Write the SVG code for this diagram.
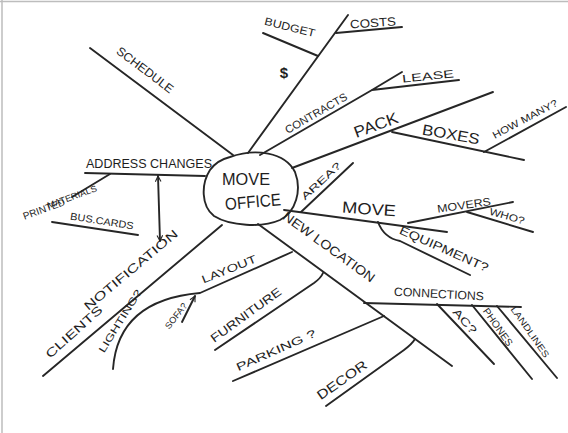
<svg xmlns="http://www.w3.org/2000/svg" width="568" height="433" viewBox="0 0 568 433">
<defs>
<style>
.ln{fill:none;stroke:#262626;stroke-width:1.9;stroke-linecap:round;stroke-linejoin:round}
.t{font-family:"Liberation Sans",Arial,sans-serif;fill:#1e1e1e;text-anchor:middle;dominant-baseline:central}
.s9{font-size:9px}.s10{font-size:10px}.s11{font-size:11px}.s12{font-size:12px}.s13{font-size:13px}.s15{font-size:15px}.s16{font-size:16px}.s17{font-size:17px}
</style>
<marker id="ah" viewBox="0 0 10 10" refX="9" refY="5" markerWidth="7" markerHeight="7" orient="auto-start-reverse" markerUnits="userSpaceOnUse">
<path d="M1,1 L9,5 L1,9" fill="none" stroke="#262626" stroke-width="1.6"/>
</marker>
</defs>
<rect width="568" height="433" fill="#fff"/>
<path d="M0,1.5 H568 M2,0 V433" stroke="#bdbdbd" stroke-width="1.5" fill="none"/>

<g id="connectors">
<path class="ln" d="M90,48 L233,155"/>
<path class="ln" d="M248,153 L348,15"/>
<path class="ln" d="M263,33 L318,56"/>
<path class="ln" d="M336,33 L402,27"/>
<path class="ln" d="M260,155 L372,90 L402,72 M372,90 L459,80"/>
<path class="ln" d="M292,168 L493,92"/>
<path class="ln" d="M392,132 L524,160"/>
<path class="ln" d="M484,152 L566,107"/>
<path class="ln" d="M301,212 L353,163"/>
<path class="ln" d="M284,210 L447,232"/>
<path class="ln" d="M408,223 L513,202"/>
<path class="ln" d="M467,212 L533,232"/>
<path class="ln" d="M378,222 Q384,238 400,241 L470,275"/>
<path class="ln" d="M258,224 L452,366"/>
<path class="ln" d="M364,303 L521,307"/>
<path class="ln" d="M437,304 L494,364"/>
<path class="ln" d="M472,305 L532,379"/>
<path class="ln" d="M497,306 L557,378"/>
<path class="ln" d="M215,350 L314,283 Q321,278 323,273"/>
<path class="ln" d="M233,381 L384,316"/>
<path class="ln" d="M326,406 L404,350 Q412,344 415,339"/>
<path class="ln" d="M113,369 Q118,300 200,293 L292,252"/>
<path class="ln" d="M222,225 L43,376"/>
<path class="ln" d="M85,173 L205,176"/>
<path class="ln" d="M110,174 L72,197"/>
<path class="ln" d="M52,222 L138,235"/>
<path class="ln" d="M158,176 L160,241" marker-start="url(#ah)" marker-end="url(#ah)"/>
<path class="ln" d="M182,322 L195,296" marker-end="url(#ah)"/>
</g>

<g id="move-office">
<path class="ln" d="M230,157 C255,148 285,152 295,172 C302,190 296,212 280,220 C262,228 230,226 214,216 C201,206 201,184 210,170 C215,163 222,159 230,157 Z"/>
<text class="t s17" x="246" y="179" textLength="48" lengthAdjust="spacingAndGlyphs">MOVE</text>
<text class="t s17" transform="translate(253,202) rotate(-5)" textLength="56" lengthAdjust="spacingAndGlyphs">OFFICE</text>
</g>
<g id="schedule"><text class="t s12" transform="translate(145,70) rotate(37)" textLength="68" lengthAdjust="spacingAndGlyphs">SCHEDULE</text></g>
<g id="budget"><text class="t s11" transform="translate(290,27) rotate(14)" textLength="52" lengthAdjust="spacingAndGlyphs">BUDGET</text>
<text class="t s15" x="284" y="72" font-weight="bold">$</text></g>
<g id="costs"><text class="t s12" transform="translate(373,23) rotate(-4)" textLength="46" lengthAdjust="spacingAndGlyphs">COSTS</text></g>
<g id="contracts"><text class="t s11" transform="translate(316,113) rotate(-30)" textLength="70" lengthAdjust="spacingAndGlyphs">CONTRACTS</text></g>
<g id="lease"><text class="t s11" transform="translate(428,76) rotate(-6)" textLength="52" lengthAdjust="spacingAndGlyphs">LEASE</text></g>
<g id="pack"><text class="t s16" transform="translate(376,125) rotate(-20)" textLength="46" lengthAdjust="spacingAndGlyphs">PACK</text></g>
<g id="boxes"><text class="t s15" transform="translate(451,134) rotate(10)" textLength="58" lengthAdjust="spacingAndGlyphs">BOXES</text></g>
<g id="how-many"><text class="t s10" transform="translate(525,119) rotate(-28)" textLength="72" lengthAdjust="spacingAndGlyphs">HOW MANY?</text></g>
<g id="area"><text class="t s10" transform="translate(321,181) rotate(-43)" textLength="50" lengthAdjust="spacingAndGlyphs">AREA?</text></g>
<g id="move"><text class="t s16" transform="translate(369,209) rotate(4)" textLength="54" lengthAdjust="spacingAndGlyphs">MOVE</text></g>
<g id="movers"><text class="t s11" transform="translate(464,205) rotate(-8)" textLength="54" lengthAdjust="spacingAndGlyphs">MOVERS</text></g>
<g id="who"><text class="t s10" transform="translate(507,216) rotate(16)" textLength="36" lengthAdjust="spacingAndGlyphs">WHO?</text></g>
<g id="equipment"><text class="t s12" transform="translate(444,249) rotate(24)" textLength="96" lengthAdjust="spacingAndGlyphs">EQUIPMENT?</text></g>
<g id="new-location"><text class="t s13" transform="translate(329,247) rotate(36)" textLength="110" lengthAdjust="spacingAndGlyphs">NEW LOCATION</text></g>
<g id="connections"><text class="t s12" transform="translate(439,294) rotate(3)" textLength="90" lengthAdjust="spacingAndGlyphs">CONNECTIONS</text></g>
<g id="ac"><text class="t s11" transform="translate(465,321) rotate(48)" textLength="30" lengthAdjust="spacingAndGlyphs">AC?</text></g>
<g id="phones"><text class="t s10" transform="translate(498,327) rotate(55)" textLength="44" lengthAdjust="spacingAndGlyphs">PHONES</text></g>
<g id="landlines"><text class="t s9" transform="translate(530,332) rotate(55)" textLength="60" lengthAdjust="spacingAndGlyphs">LANDLINES</text></g>
<g id="furniture"><text class="t s12" transform="translate(246,315) rotate(-36)" textLength="84" lengthAdjust="spacingAndGlyphs">FURNITURE</text></g>
<g id="parking"><text class="t s11" transform="translate(276,350) rotate(-24)" textLength="86" lengthAdjust="spacingAndGlyphs">PARKING ?</text></g>
<g id="decor"><text class="t s13" transform="translate(342,380) rotate(-35)" textLength="58" lengthAdjust="spacingAndGlyphs">DECOR</text></g>
<g id="layout"><text class="t s11" transform="translate(229,269) rotate(-22)" textLength="58" lengthAdjust="spacingAndGlyphs">LAYOUT</text></g>
<g id="lighting"><text class="t s10" transform="translate(120,321) rotate(-58)" textLength="72" lengthAdjust="spacingAndGlyphs">LIGHTING?</text></g>
<g id="sofa"><text class="t s9" transform="translate(176,316) rotate(-52)" textLength="30" lengthAdjust="spacingAndGlyphs">SOFA?</text></g>
<g id="notification"><text class="t s12" transform="translate(131,270) rotate(-40)" textLength="118" lengthAdjust="spacingAndGlyphs">NOTIFICATION</text></g>
<g id="clients"><text class="t s12" transform="translate(74,332) rotate(-42)" textLength="72" lengthAdjust="spacingAndGlyphs">CLIENTS</text></g>
<g id="address-changes"><text class="t s12" x="149" y="164" textLength="126" lengthAdjust="spacingAndGlyphs">ADDRESS CHANGES</text></g>
<g id="printed-materials"><text class="t s10" transform="translate(44,209) rotate(-20)" textLength="44" lengthAdjust="spacingAndGlyphs">PRINTED</text>
<text class="t s9" transform="translate(72,197) rotate(-20)" textLength="52" lengthAdjust="spacingAndGlyphs">MATERIALS</text></g>
<g id="bus-cards"><text class="t s10" transform="translate(102,221) rotate(9)" textLength="64" lengthAdjust="spacingAndGlyphs">BUS.CARDS</text></g>
</svg>
